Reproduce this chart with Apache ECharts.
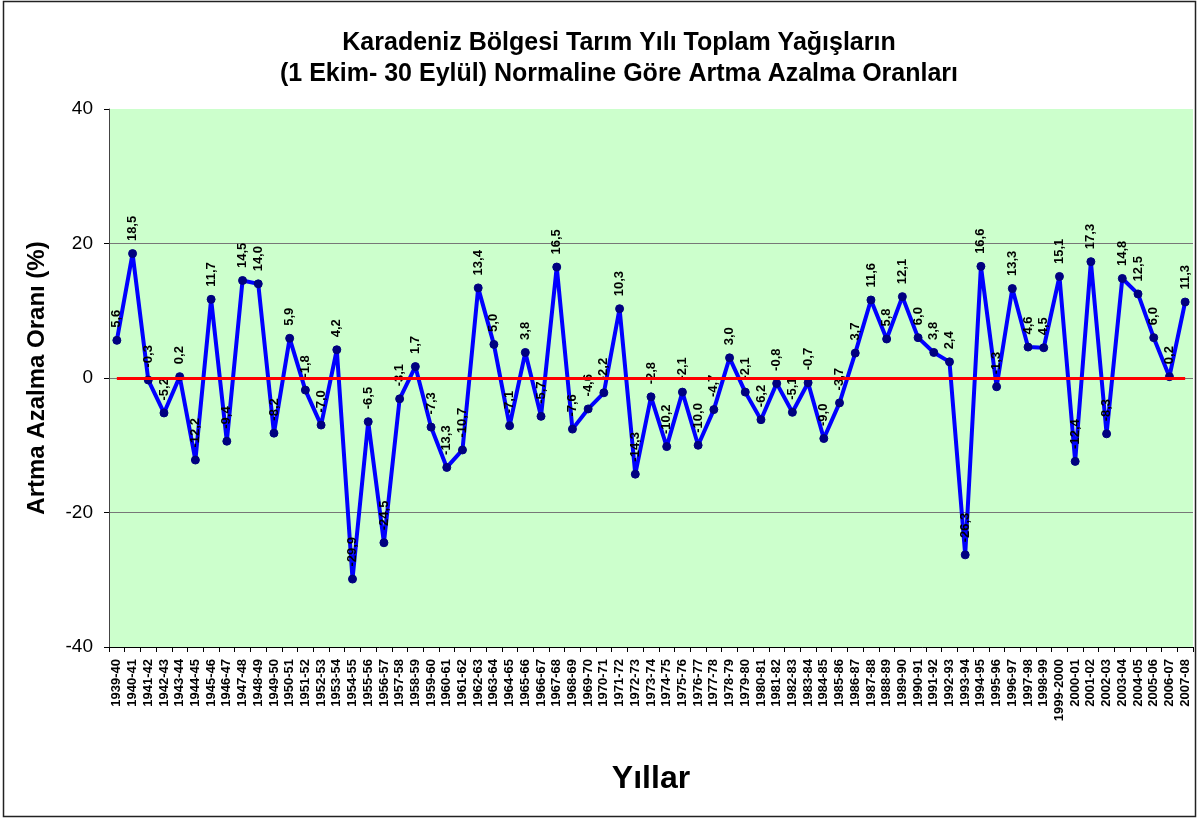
<!DOCTYPE html>
<html>
<head>
<meta charset="utf-8">
<script src="https://cdn.jsdelivr.net/npm/echarts@6/dist/echarts.min.js"></script>
<style>
  html, body { margin: 0; padding: 0; background: #fff; }
  #chart { width: 1198px; height: 819px; }
</style>
</head>
<body>
<div id="chart"></div>
<script>
// tarım yılları
const years = [
  '1939-40', '1940-41', '1941-42', '1942-43', '1943-44', '1944-45', '1945-46', '1946-47',
  '1947-48', '1948-49', '1949-50', '1950-51', '1951-52', '1952-53', '1953-54', '1954-55',
  '1955-56', '1956-57', '1957-58', '1958-59', '1959-60', '1960-61', '1961-62', '1962-63',
  '1963-64', '1964-65', '1965-66', '1966-67', '1967-68', '1968-69', '1969-70', '1970-71',
  '1971-72', '1972-73', '1973-74', '1974-75', '1975-76', '1976-77', '1977-78', '1978-79',
  '1979-80', '1980-81', '1981-82', '1982-83', '1983-84', '1984-85', '1985-86', '1986-87',
  '1987-88', '1988-89', '1989-90', '1990-91', '1991-92', '1992-93', '1993-94', '1994-95',
  '1995-96', '1996-97', '1997-98', '1998-99', '1999-2000', '2000-01', '2001-02', '2002-03',
  '2003-04', '2004-05', '2005-06', '2006-07', '2007-08'
]

// normale göre artma azalma oranı (%)
const rates = [
  5.6, 18.5, -0.3, -5.2, 0.2, -12.2, 11.7, -9.4,
  14.5, 14.0, -8.2, 5.9, -1.8, -7.0, 4.2, -29.9,
  -6.5, -24.5, -3.1, 1.7, -7.3, -13.3, -10.7, 13.4,
  5.0, -7.1, 3.8, -5.7, 16.5, -7.6, -4.6, -2.2,
  10.3, -14.3, -2.8, -10.2, -2.1, -10.0, -4.7, 3.0,
  -2.1, -6.2, -0.8, -5.1, -0.7, -9.0, -3.7, 3.7,
  11.6, 5.8, 12.1, 6.0, 3.8, 2.4, -26.3, 16.6,
  -1.3, 13.3, 4.6, 4.5, 15.1, -12.4, 17.3, -8.3,
  14.8, 12.5, 6.0, 0.2, 11.3
]

const yTicks = [-40, -20, 0, 20, 40]

const chart = echarts.init(document.getElementById('chart'))
const font = 'Arial, "Liberation Sans", sans-serif'

let option = {
  backgroundColor: '#fff',
  animation: false,
  title: {
    text: 'Karadeniz Bölgesi Tarım Yılı Toplam Yağışların\n(1 Ekim- 30 Eylül) Normaline Göre Artma Azalma Oranları',
    left: 614,
    top: 23,
    textAlign: 'center',
    textStyle: {
      fontFamily: font,
      fontSize: 25,
      fontWeight: 'bold',
      color: '#000',
      lineHeight: 31
    }
  },
  graphic: [
    {
      type: 'rect',
      shape: {x: 3.5, y: 1.5, width: 1192, height: 815},
      style: {fill: 'none', stroke: '#222', lineWidth: 1.5},
      silent: true
    }
  ],
  grid: {
    left: 109,
    right: 5,
    top: 109,
    bottom: 172,
    show: true,
    backgroundColor: '#CCFFCC',
    borderWidth: 0
  },
  xAxis: {
    type: 'category',
    data: years,
    boundaryGap: true,
    name: 'Yıllar',
    nameLocation: 'middle',
    nameGap: 116,
    nameTextStyle: {fontFamily: font, fontSize: 32, fontWeight: 'bold', color: '#000'},
    axisLine: {onZero: false, lineStyle: {color: '#000', width: 1}},
    axisTick: {show: true, length: 5, interval: 0, lineStyle: {color: '#000'}},
    axisLabel: {
      interval: 0,
      rotate: 90,
      margin: 12,
      fontFamily: font,
      fontSize: 13,
      fontWeight: 'bold',
      color: '#000'
    },
    splitLine: {show: false}
  },
  yAxis: {
    type: 'value',
    min: yTicks[0],
    max: yTicks[yTicks.length - 1],
    interval: 20,
    name: 'Artma Azalma Oranı (%)',
    nameLocation: 'middle',
    nameGap: 60,
    nameTextStyle: {fontFamily: font, fontSize: 24, fontWeight: 'bold', color: '#000'},
    axisLine: {show: true, lineStyle: {color: '#444', width: 1}},
    axisTick: {show: true, length: 5, lineStyle: {color: '#000'}},
    axisLabel: {fontFamily: font, fontSize: 19, color: '#000', margin: 16},
    splitLine: {
      show: true,
      lineStyle: {color: ['transparent', '#777', '#777', '#777', 'transparent'], width: 1}
    }
  },
  series: [
    {
      name: 'Oran',
      type: 'line',
      data: rates,
      symbol: 'circle',
      symbolSize: 8,
      lineStyle: {color: '#0000FF', width: 4},
      itemStyle: {color: '#000080', borderColor: '#000080'},
      z: 3,
      label: {
        show: true,
        position: 'top',
        rotate: 90,
        align: 'left',
        verticalAlign: 'middle',
        distance: 8,
        fontFamily: font,
        fontSize: 13,
        fontWeight: 'bold',
        color: '#000',
        formatter: p => p.value.toFixed(1).replace('.', ',')
      },
      markLine: {
        silent: true,
        symbol: ['none', 'none'],
        label: {show: false},
        lineStyle: {color: '#FF0000', width: 3, type: 'solid'},
        data: [
          [
            {coord: [years[0], 0]},
            {coord: [years[years.length - 1], 0]}
          ]
        ]
      }
    }
  ]
}

chart.setOption(option)
</script>
</body>
</html>
